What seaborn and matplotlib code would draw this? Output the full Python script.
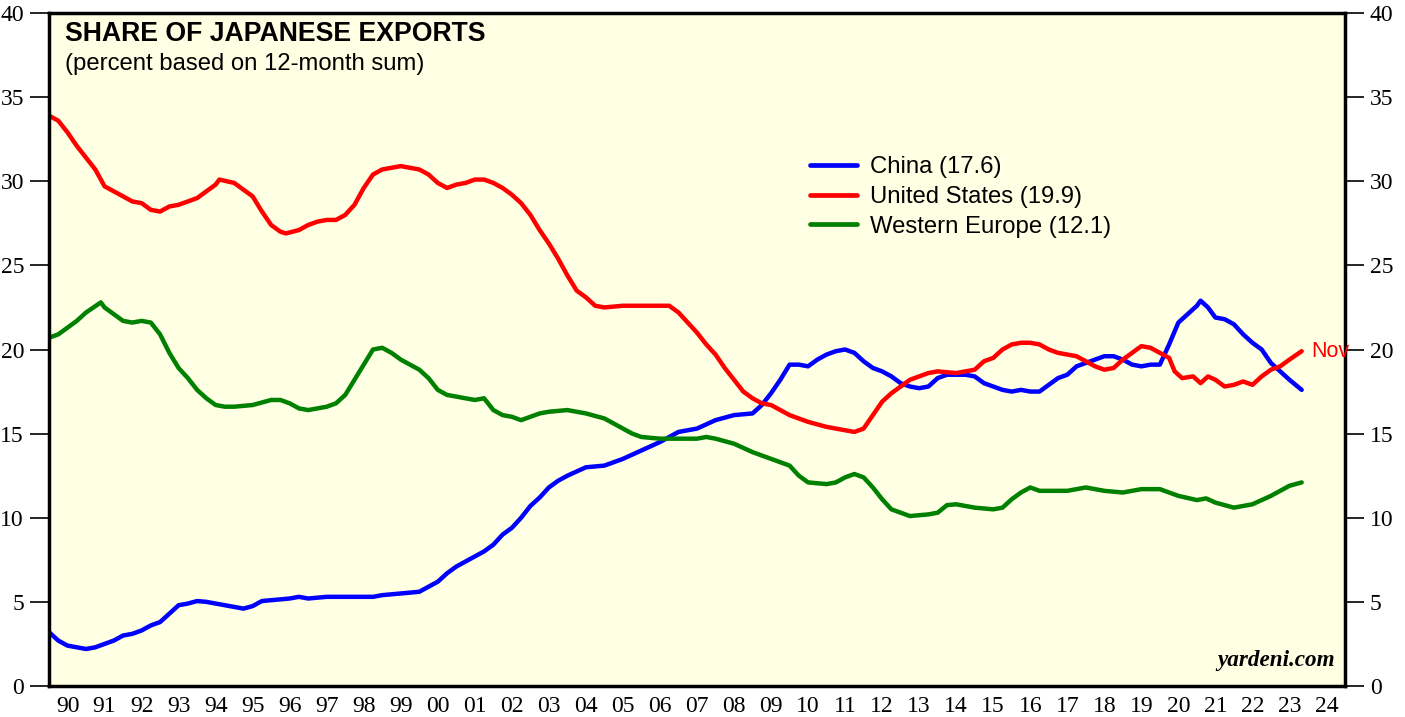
import matplotlib
matplotlib.use("Agg")
import matplotlib.pyplot as plt
import seaborn as sns
import pandas as pd
import numpy as np
from matplotlib.lines import Line2D

# ---- data (decimal years, percent) ----
us_t = [1990.0, 1990.25, 1990.5, 1990.75, 1991.0, 1991.25, 1991.5, 1991.75, 1992.0, 1992.25, 1992.5, 1992.75,
        1993.0, 1993.25, 1993.5, 1993.75, 1994.0, 1994.25, 1994.5, 1994.6, 1995.0, 1995.25, 1995.5, 1995.75,
        1996.0, 1996.25, 1996.4, 1996.75, 1997.0, 1997.25, 1997.5, 1997.75, 1998.0, 1998.25, 1998.5, 1998.75,
        1999.0, 1999.25, 1999.5, 1999.75, 2000.0, 2000.25, 2000.5, 2000.75, 2001.0, 2001.25, 2001.5, 2001.75,
        2002.0, 2002.25, 2002.5, 2002.75, 2003.0, 2003.25, 2003.5, 2003.75, 2004.0, 2004.25, 2004.5, 2004.75,
        2005.0, 2005.5, 2006.0, 2006.5, 2006.75, 2007.0, 2007.25, 2007.5, 2007.75, 2008.0, 2008.25, 2008.5,
        2008.75, 2009.0, 2009.25, 2009.5, 2009.75, 2010.0, 2010.5, 2011.0, 2011.5, 2011.75, 2012.0, 2012.25,
        2012.5, 2012.75, 2013.0, 2013.25, 2013.5, 2013.75, 2014.0, 2014.5, 2015.0, 2015.25, 2015.5, 2015.75,
        2016.0, 2016.25, 2016.5, 2016.75, 2017.0, 2017.25, 2017.5, 2017.75, 2018.0, 2018.25, 2018.5, 2018.75,
        2019.0, 2019.25, 2019.5, 2019.75, 2020.0, 2020.25, 2020.4, 2020.6, 2020.9, 2021.1, 2021.3, 2021.5,
        2021.75, 2022.0, 2022.25, 2022.5, 2022.75, 2023.0, 2023.25, 2023.5, 2023.83]
us_v = [33.9, 33.6, 32.9, 32.1, 31.4, 30.7, 29.7, 29.4, 29.1, 28.8, 28.7, 28.3,
        28.2, 28.5, 28.6, 28.8, 29.0, 29.4, 29.8, 30.1, 29.9, 29.5, 29.1, 28.2,
        27.4, 27.0, 26.9, 27.1, 27.4, 27.6, 27.7, 27.7, 28.0, 28.6, 29.6, 30.4,
        30.7, 30.8, 30.9, 30.8, 30.7, 30.4, 29.9, 29.6, 29.8, 29.9, 30.1, 30.1,
        29.9, 29.6, 29.2, 28.7, 28.0, 27.1, 26.3, 25.4, 24.4, 23.5, 23.1, 22.6,
        22.5, 22.6, 22.6, 22.6, 22.6, 22.2, 21.6, 21.0, 20.3, 19.7, 18.9, 18.2,
        17.5, 17.1, 16.8, 16.7, 16.4, 16.1, 15.7, 15.4, 15.2, 15.1, 15.3, 16.1,
        16.9, 17.4, 17.8, 18.2, 18.4, 18.6, 18.7, 18.6, 18.8, 19.3, 19.5, 20.0,
        20.3, 20.4, 20.4, 20.3, 20.0, 19.8, 19.7, 19.6, 19.3, 19.0, 18.8, 18.9,
        19.4, 19.8, 20.2, 20.1, 19.8, 19.5, 18.7, 18.3, 18.4, 18.0, 18.4, 18.2,
        17.8, 17.9, 18.1, 17.9, 18.4, 18.8, 19.0, 19.4, 19.9]

cn_t = [1990.0, 1990.25, 1990.5, 1990.75, 1991.0, 1991.25, 1991.5, 1991.75, 1992.0, 1992.25, 1992.5, 1992.75,
        1993.0, 1993.25, 1993.5, 1993.75, 1994.0, 1994.25, 1994.5, 1994.75, 1995.0, 1995.25, 1995.5, 1995.75,
        1996.0, 1996.5, 1996.75, 1997.0, 1997.5, 1998.0, 1998.5, 1998.75, 1999.0, 1999.5, 2000.0, 2000.25,
        2000.5, 2000.75, 2001.0, 2001.25, 2001.5, 2001.75, 2002.0, 2002.25, 2002.5, 2002.75, 2003.0, 2003.25,
        2003.5, 2003.75, 2004.0, 2004.5, 2005.0, 2005.5, 2006.0, 2006.5, 2007.0, 2007.5, 2008.0, 2008.5,
        2009.0, 2009.25, 2009.5, 2009.75, 2010.0, 2010.25, 2010.5, 2010.75, 2011.0, 2011.25, 2011.5, 2011.75,
        2012.0, 2012.25, 2012.5, 2012.75, 2013.0, 2013.25, 2013.5, 2013.75, 2014.0, 2014.25, 2014.5, 2014.75,
        2015.0, 2015.25, 2015.5, 2015.75, 2016.0, 2016.25, 2016.5, 2016.75, 2017.0, 2017.25, 2017.5, 2017.75,
        2018.0, 2018.25, 2018.5, 2018.75, 2019.0, 2019.25, 2019.5, 2019.75, 2020.0, 2020.25, 2020.5, 2020.75,
        2021.0, 2021.1, 2021.3, 2021.5, 2021.75, 2022.0, 2022.25, 2022.5, 2022.75, 2023.0, 2023.25, 2023.5,
        2023.83]
cn_v = [3.2, 2.7, 2.4, 2.3, 2.2, 2.3, 2.5, 2.7, 3.0, 3.1, 3.3, 3.6,
        3.8, 4.3, 4.8, 4.9, 5.05, 5.0, 4.9, 4.8, 4.7, 4.6, 4.75, 5.05,
        5.1, 5.2, 5.3, 5.2, 5.3, 5.3, 5.3, 5.3, 5.4, 5.5, 5.6, 5.9,
        6.2, 6.7, 7.1, 7.4, 7.7, 8.0, 8.4, 9.0, 9.4, 10.0, 10.7, 11.2,
        11.8, 12.2, 12.5, 13.0, 13.1, 13.5, 14.0, 14.5, 15.1, 15.3, 15.8, 16.1,
        16.2, 16.7, 17.4, 18.2, 19.1, 19.1, 19.0, 19.4, 19.7, 19.9, 20.0, 19.8,
        19.3, 18.9, 18.7, 18.4, 18.0, 17.8, 17.7, 17.8, 18.3, 18.5, 18.5, 18.5,
        18.4, 18.0, 17.8, 17.6, 17.5, 17.6, 17.5, 17.5, 17.9, 18.3, 18.5, 19.0,
        19.2, 19.4, 19.6, 19.6, 19.4, 19.1, 19.0, 19.1, 19.1, 20.3, 21.6, 22.1,
        22.6, 22.9, 22.5, 21.9, 21.8, 21.5, 20.9, 20.4, 20.0, 19.2, 18.7, 18.2,
        17.6]

we_t = [1990.0, 1990.25, 1990.5, 1990.75, 1991.0, 1991.4, 1991.5, 1991.75, 1992.0, 1992.25, 1992.5, 1992.75,
        1993.0, 1993.25, 1993.5, 1993.75, 1994.0, 1994.25, 1994.5, 1994.75, 1995.0, 1995.5, 1996.0, 1996.25,
        1996.5, 1996.75, 1997.0, 1997.5, 1997.75, 1998.0, 1998.25, 1998.5, 1998.75, 1999.0, 1999.25, 1999.5,
        1999.75, 2000.0, 2000.25, 2000.5, 2000.75, 2001.0, 2001.5, 2001.75, 2002.0, 2002.25, 2002.5, 2002.75,
        2003.0, 2003.25, 2003.5, 2004.0, 2004.5, 2005.0, 2005.25, 2005.5, 2005.75, 2006.0, 2006.5, 2007.0,
        2007.5, 2007.75, 2008.0, 2008.5, 2009.0, 2009.5, 2010.0, 2010.25, 2010.5, 2011.0, 2011.25, 2011.5,
        2011.75, 2012.0, 2012.25, 2012.5, 2012.75, 2013.0, 2013.25, 2013.75, 2014.0, 2014.25, 2014.5, 2015.0,
        2015.5, 2015.75, 2016.0, 2016.25, 2016.5, 2016.75, 2017.0, 2017.5, 2018.0, 2018.5, 2019.0, 2019.5,
        2020.0, 2020.25, 2020.5, 2021.0, 2021.25, 2021.5, 2022.0, 2022.5, 2022.75, 2023.0, 2023.25, 2023.5,
        2023.83]
we_v = [20.7, 20.9, 21.3, 21.7, 22.2, 22.8, 22.5, 22.1, 21.7, 21.6, 21.7, 21.6,
        20.9, 19.8, 18.9, 18.3, 17.6, 17.1, 16.7, 16.6, 16.6, 16.7, 17.0, 17.0,
        16.8, 16.5, 16.4, 16.6, 16.8, 17.3, 18.2, 19.1, 20.0, 20.1, 19.8, 19.4,
        19.1, 18.8, 18.3, 17.6, 17.3, 17.2, 17.0, 17.1, 16.4, 16.1, 16.0, 15.8,
        16.0, 16.2, 16.3, 16.4, 16.2, 15.9, 15.6, 15.3, 15.0, 14.8, 14.7, 14.7,
        14.7, 14.8, 14.7, 14.4, 13.9, 13.5, 13.1, 12.5, 12.1, 12.0, 12.1, 12.4,
        12.6, 12.4, 11.8, 11.1, 10.5, 10.3, 10.1, 10.2, 10.3, 10.75, 10.8, 10.6,
        10.5, 10.6, 11.1, 11.5, 11.8, 11.6, 11.6, 11.6, 11.8, 11.6, 11.5, 11.7,
        11.7, 11.5, 11.3, 11.05, 11.15, 10.9, 10.6, 10.8, 11.05, 11.3, 11.6, 11.9,
        12.1]

series_names = ["China", "United States", "Western Europe"]
latest = [17.6, 19.9, 12.1]
year_labels = ["90", "91", "92", "93", "94", "95", "96", "97", "98", "99", "00", "01", "02",
               "03", "04", "05", "06", "07", "08", "09", "10", "11", "12", "13", "14", "15",
               "16", "17", "18", "19", "20", "21", "22", "23", "24"]
y_ticks = [0, 5, 10, 15, 20, 25, 30, 35, 40]

df = pd.concat([
    pd.DataFrame({"t": cn_t, "v": cn_v, "s": series_names[0]}),
    pd.DataFrame({"t": us_t, "v": us_v, "s": series_names[1]}),
    pd.DataFrame({"t": we_t, "v": we_v, "s": series_names[2]}),
], ignore_index=True)

colors = {"China": "#0000FF", "United States": "#FF0000", "Western Europe": "#008000"}
bg = "#FFFFE3"

sns.set_theme(style="white")
fig = plt.figure(figsize=(14.05, 7.17), dpi=100)
ax = fig.add_axes([49/1405, 1 - 686/717, (1345 - 49)/1405, (686 - 13)/717])
ax.set_facecolor(bg)

sns.lineplot(data=df, x="t", y="v", hue="s", palette=colors, sort=False,
             estimator=None, linewidth=3.2, ax=ax, legend=False)
for ln in ax.lines:
    ln.set_solid_joinstyle("round")
    ln.set_solid_capstyle("round")

x0, x1 = 1990, 1990 + len(year_labels)
ax.set_xlim(x0, x1)
ax.set_ylim(0, 40)
ax.set_xlabel("")
ax.set_ylabel("")

serif = "Liberation Serif"
sans = "Liberation Sans"

# y ticks left & right
ax.set_yticks(y_ticks)
ax.set_yticklabels([str(v) for v in y_ticks], fontfamily=serif, fontsize=17, color="black")
ax.tick_params(axis="y", which="major", direction="out", length=14, width=1.2, color="black",
               left=True, right=True, labelleft=True, labelright=True, pad=4)

# x ticks: boundaries (major) + labels at mid-year (minor)
ax.set_xticks(np.arange(x0, x1 + 1))
ax.set_xticklabels([])
ax.set_xticks(np.arange(x0, x1) + 0.5, minor=True)
ax.set_xticklabels(year_labels, minor=True, fontfamily=serif, fontsize=17, color="black")
ax.tick_params(axis="x", which="major", direction="out", length=15, width=2.5, color="black")
ax.tick_params(axis="x", which="minor", length=0, pad=7)

for sp in ax.spines.values():
    sp.set_linewidth(2.5)
    sp.set_color("black")

# titles
fig.text(65/1405, 1 - 34/717, "SHARE OF JAPANESE EXPORTS", fontfamily=sans, fontweight="bold",
         fontsize=19.2, va="center", ha="left", color="black")
fig.text(65/1405, 1 - 64/717, "(percent based on 12-month sum)", fontfamily=sans,
         fontsize=17.2, va="center", ha="left", color="black")

# legend
handles = [Line2D([0], [0], color=colors[n], lw=3.4) for n in series_names]
labels = [f"{n} ({v})" for n, v in zip(series_names, latest)]
leg = ax.legend(handles, labels, loc="upper left", bbox_to_anchor=((810 - 49)/1296, (686 - 156)/673),
                frameon=False, prop={"family": sans, "size": 17.2}, handlelength=1.95,
                handletextpad=0.55, labelspacing=0.33, borderaxespad=0, borderpad=0)
for t in leg.get_texts():
    t.set_color("black")

# end label
ax.text(us_t[-1] + 0.25, us_v[-1], "Nov", color="#FF0000", fontfamily=sans, fontsize=15.5,
        va="center", ha="left", clip_on=False)

# source
ax.text(0.992, 0.022, "yardeni.com", transform=ax.transAxes, ha="right", va="bottom",
        fontfamily=serif, fontweight="bold", fontstyle="italic", fontsize=16.7, color="black")

fig.savefig("out.png", dpi=100, facecolor="white")
